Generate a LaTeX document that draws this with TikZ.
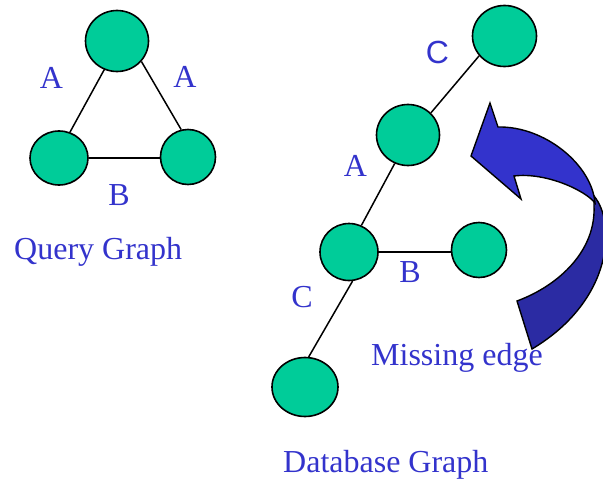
\documentclass[tikz,border=0pt]{standalone}
\usepackage{fontspec}
\setmainfont{Liberation Serif}
\newfontfamily\labsans{Liberation Sans}
\usetikzlibrary{shapes.geometric}
\definecolor{vertexfill}{HTML}{00CC99}
\definecolor{labelblue}{HTML}{3333CC}
\definecolor{arrowlight}{HTML}{3333CC}
\definecolor{arrowdark}{HTML}{2B2BA3}
\tikzset{
  vertex/.style={ellipse, draw=black, fill=vertexfill, line width=1.6pt, inner sep=0pt},
  edge/.style={draw=black, line width=1.5pt},
  lbl/.style={text=labelblue, inner sep=0pt, anchor=base, font=\fontsize{32}{38}\selectfont},
  title/.style={lbl, anchor=base west},
  bandline/.style={draw=black, line width=1.4pt, line join=miter},
}
\begin{document}
\begin{tikzpicture}[x=1pt, y=-1pt]
\useasboundingbox (0,0) rectangle (603,482);
\fill[white] (0,0) rectangle (603,482);
\clip (0,0) rectangle (603,482);

% query graph
\node[vertex, minimum width=63pt, minimum height=61pt] (qt) at (117,41) {};
\node[vertex, minimum width=58pt, minimum height=54pt] (ql) at (59,158) {};
\node[vertex, minimum width=55pt, minimum height=55pt] (qr) at (188,157) {};
\draw[edge] (qt.-114) -- (ql.67);
\draw[edge] (qt.-40) -- (qr.104);
\draw[edge] (ql.east) -- (ql.east -| qr.west);
\node[lbl] (qa1) at (51.5,88) {A};
\node[lbl] (qa2) at (185,87) {A};
\node[lbl] (qb) at (119,205) {B};
\node[title] (qtitle) at (14,259) {Query Graph};

% database graph
\node[vertex, minimum width=64pt, minimum height=61pt] (dtop) at (504.5,36) {};
\node[vertex, minimum width=63pt, minimum height=61pt] (dmid) at (408,135) {};
\node[vertex, minimum width=58pt, minimum height=57pt] (dhub) at (349,252) {};
\node[vertex, minimum width=55pt, minimum height=55pt] (dright) at (479,250) {};
\node[vertex, minimum width=66pt, minimum height=59pt] (dlow) at (305,387) {};
\draw[edge] (dmid.44) -- (dtop.218);
\draw[edge] (dmid.-115) -- (dhub.65);
\draw[edge] (dhub.east) -- (dhub.east -| dright.west);
\draw[edge] (dhub.-83) -- (dlow.83);
\node[lbl, font=\labsans\fontsize{32}{38}\selectfont] (dc1) at (437.5,63) {C};
\node[lbl] (da) at (355.5,176) {A};
\node[lbl] (db) at (410,282) {B};
\node[lbl] (dc2) at (302,307) {C};
\node[title] (mtitle) at (371,365) {Missing edge};
\node[title] (dtitle) at (283,472) {Database Graph};

% curved arrow: rear band first, then the front band with its head
\path[bandline, fill=arrowdark]
  (594,196) .. controls (616,222) and (614,300) .. (532,349)
  -- (517,301)
  .. controls (560,285) and (596,250) .. (594,206)
  -- cycle;
\path[bandline, fill=arrowlight]
  (490,103) -- (498,127)
  .. controls (545,126) and (592,165) .. (595,203)
  .. controls (585,190) and (545,172) .. (514,176)
  -- (521,199) -- (471,156) -- cycle;
\end{tikzpicture}
\end{document}
